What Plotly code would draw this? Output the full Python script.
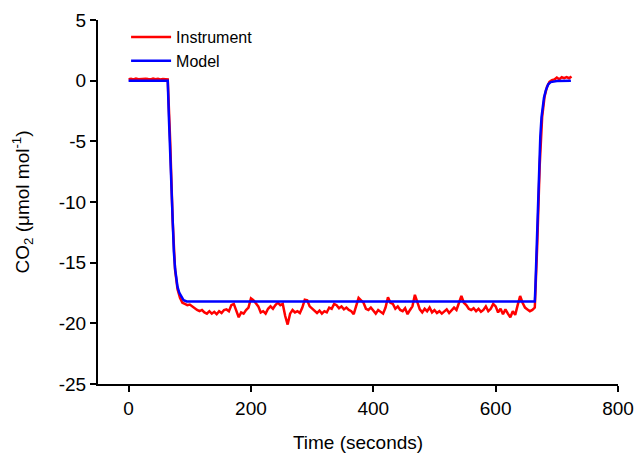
import plotly.graph_objects as go

# ---- Data ----
instrument_time = list(range(0, 728, 4))
instrument_co2 = [
    0.12, 0.15, 0.10, 0.18, 0.12, 0.14, 0.10, 0.16, 0.13, 0.11, 0.17, 0.12, 0.15, 0.10, 0.14, 0.12,  # 0-60
    0.10, -5.0, -11.5, -15.6, -17.2, -17.9, -18.3, -18.4,                                            # 64-92
    -18.5, -18.45, -18.6, -18.8, -18.9, -19.0, -18.9, -19.1, -19.2, -19.0,                           # 96-132
    -19.2, -19.05, -19.25, -19.0, -19.15, -18.9, -18.85, -19.0, -18.5, -18.4,                        # 136-172
    -18.9, -19.5, -19.1, -19.2, -18.9, -18.7, -17.95, -18.1, -18.35, -18.6,                          # 176-212
    -19.1, -19.0, -19.2, -18.8, -18.6, -18.8, -18.5, -18.3, -18.5, -18.4,                            # 216-252
    -19.4, -20.1, -19.2, -18.9, -19.1, -19.0, -19.15, -18.7, -18.05, -18.1,                          # 256-292
    -18.6, -18.8, -19.0, -19.15, -18.95, -19.2, -19.0, -19.1, -18.7, -18.8,                          # 296-332
    -18.4, -18.5, -18.75, -18.6, -18.85, -18.7, -18.9, -19.0, -19.25, -18.6,                         # 336-372
    -17.9, -18.1, -18.3, -18.8, -18.9, -18.7, -19.0, -19.2, -18.9, -19.05,                           # 376-412
    -19.2, -18.7, -17.85, -18.3, -18.4, -18.8, -18.6, -18.9, -19.0, -18.75,                          # 416-452
    -19.25, -18.9, -18.6, -17.65, -18.3, -18.85, -19.1, -18.8, -19.0, -18.7,                         # 456-492
    -19.1, -18.9, -19.15, -19.0, -19.2, -19.05, -18.85, -19.15, -18.95, -18.7,                       # 496-532
    -18.9, -18.3, -17.75, -18.3, -18.5, -18.8, -18.9, -18.75, -19.0, -18.8,                          # 536-572
    -19.05, -18.9, -18.6, -19.0, -18.8, -18.4, -18.6, -19.1, -18.8, -19.25,                          # 576-612
    -18.85, -19.2, -19.5, -19.0, -19.3, -18.5, -17.75, -18.3, -18.7, -18.85,                         # 616-652
    -19.0, -18.9, -18.7, -13.5, -7.0, -3.0, -1.3, -0.5, -0.1, 0.05,                                  # 656-692
    0.10, 0.25, 0.12, 0.28, 0.20, 0.30, 0.20, 0.35,                                                  # 696-724
]

model_time = [0, 64, 66, 68, 70, 72, 74, 76, 78, 80, 83, 86, 90, 95,
              664, 665, 666, 667, 668, 669, 670, 671, 672, 673, 675, 677, 679, 682, 686, 690, 700, 723]
model_co2 = [0.0, 0.0, -3.2, -6.3, -9.2, -12.0, -14.1, -15.5, -16.4, -17.0, -17.5, -17.8, -18.1, -18.2,
             -18.2, -17.0, -15.5, -13.8, -12.0, -10.1, -8.5, -7.1, -5.8, -4.6, -3.0, -2.0, -1.4, -0.8, -0.3, -0.12, -0.03, 0.0]

x_ticks = [0, 200, 400, 600, 800]
x_tick_labels = ["0", "200", "400", "600", "800"]
y_ticks = [-25, -20, -15, -10, -5, 0, 5]
y_tick_labels = ["-25", "-20", "-15", "-10", "-5", "0", "5"]

FONT = "Liberation Sans, Arial, Helvetica, sans-serif"

fig = go.Figure()
fig.add_trace(go.Scatter(x=instrument_time, y=instrument_co2, mode="lines", name="Instrument",
                         line=dict(color="#FF0000", width=2.5)))
fig.add_trace(go.Scatter(x=model_time, y=model_co2, mode="lines", name="Model",
                         line=dict(color="#0000FF", width=2.5)))

axis_common = dict(showline=True, linecolor="black", linewidth=2, ticks="outside", ticklen=6,
                   tickwidth=2, tickcolor="black", showgrid=False, zeroline=False, automargin=False,
                   tickfont=dict(family=FONT, size=19, color="black"))

fig.update_layout(
    width=638, height=455,
    margin=dict(l=98, r=20, t=20, b=71),
    paper_bgcolor="white", plot_bgcolor="white",
    font=dict(family=FONT, color="black"),
    xaxis=dict(range=[-50, 800], tickvals=x_ticks, ticktext=x_tick_labels,
               title=dict(text="Time (seconds)", font=dict(family=FONT, size=19), standoff=18),
               **axis_common),
    yaxis=dict(range=[-25, 5], tickvals=y_ticks, ticktext=y_tick_labels,
               title=dict(text="CO<sub>2</sub> (μmol mol<sup>-1</sup>)", font=dict(family=FONT, size=19), standoff=24),
               **axis_common),
    legend=dict(x=0.054, y=1.0, xanchor="left", yanchor="top", bgcolor="rgba(0,0,0,0)",
                itemwidth=40, font=dict(family=FONT, size=16, color="black")),
    showlegend=True,
)

fig.write_html("out.html", config={"displayModeBar": False},
               post_script="document.body.style.margin='0';")
